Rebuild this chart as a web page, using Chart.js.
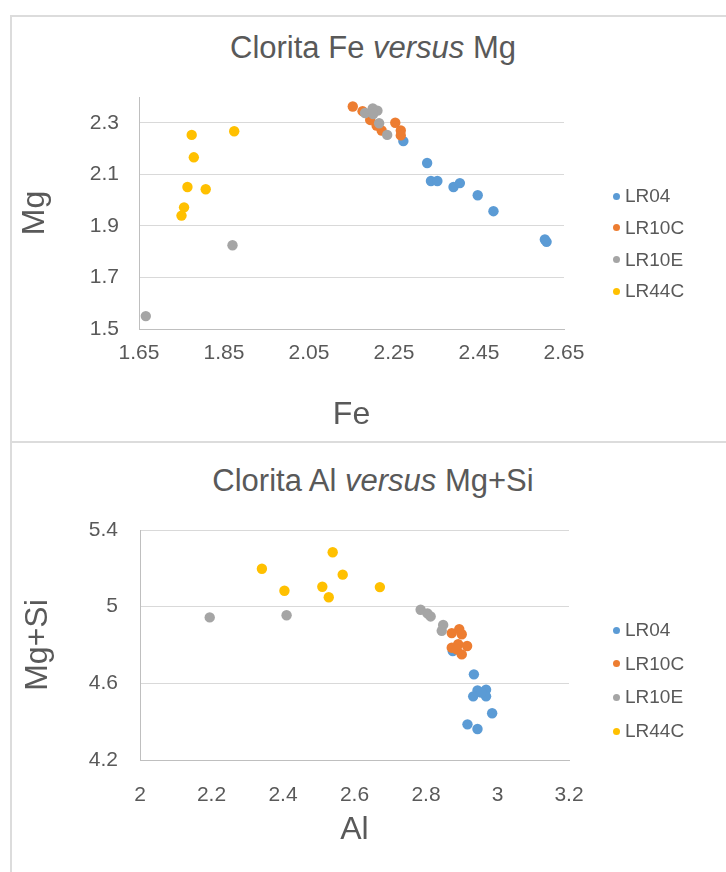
<!DOCTYPE html>
<html>
<head>
<meta charset="utf-8">
<script src="https://cdn.jsdelivr.net/npm/chart.js@4/dist/chart.umd.min.js"></script>
<style>
  html, body { margin: 0; padding: 0; background: #fff; }
  body { position: relative; width: 726px; height: 872px; overflow: hidden;
         font-family: "Liberation Sans", Arial, sans-serif; color: #595959; }
  .panel { position: absolute; left: 10px; width: 740px; border: 2px solid #DCDCDC; box-sizing: border-box; }
  canvas { position: absolute; }
  .title { position: absolute; left: 12px; width: 722px; text-align: center;
           font-size: 31px; line-height: 36px; white-space: nowrap; }
  .legend { position: absolute; font-size: 19px; }
  .legend .row { position: absolute; left: 0; height: 22px; line-height: 22px; white-space: nowrap; }
  .legend .dot { position: absolute; left: -3.5px; top: 7.5px; width: 7px; height: 7px; border-radius: 50%; }
  .legend .txt { position: absolute; left: 9px; top: 0; }
</style>
</head>
<body>
<div class="panel" style="top:15px;height:428px;"></div>
<div class="panel" style="top:441px;height:460px;"></div>

<div class="title" style="top:30px;">Clorita Fe <i>versus</i> Mg</div>
<div class="title" style="top:463px;">Clorita Al <i>versus</i> Mg+Si</div>

<canvas id="feMg" width="712" height="424" style="left:12px;top:17px;width:712px;height:424px;"></canvas>
<canvas id="alMgSi" width="712" height="429" style="left:12px;top:443px;width:712px;height:429px;"></canvas>

<div class="legend" id="legendFeMg" style="left:616px;top:0;"></div>
<div class="legend" id="legendAlMgSi" style="left:616px;top:0;"></div>

<script>
// Samples and their marker colours
const seriesNames = ['LR04', 'LR10C', 'LR10E', 'LR44C'];
const seriesColors = ['#5B9BD5', '#ED7D31', '#A5A5A5', '#FFC000'];

// Fe vs Mg (atoms per formula unit)
const feLR04  = [2.272, 2.328, 2.337, 2.352, 2.390, 2.405, 2.447, 2.484, 2.605, 2.609];
const mgLR04  = [2.229, 2.144, 2.074, 2.074, 2.051, 2.066, 2.019, 1.957, 1.847, 1.838];
const feLR10C = [2.153, 2.176, 2.194, 2.209, 2.221, 2.253, 2.266, 2.266];
const mgLR10C = [2.363, 2.345, 2.311, 2.289, 2.270, 2.300, 2.270, 2.251];
const feLR10E = [1.666, 1.870, 2.182, 2.200, 2.211, 2.201, 2.215, 2.234];
const mgLR10E = [1.550, 1.825, 2.338, 2.356, 2.347, 2.334, 2.298, 2.253];
const feLR44C = [1.774, 1.779, 1.764, 1.807, 1.756, 1.750, 1.874];
const mgLR44C = [2.253, 2.166, 2.051, 2.042, 1.972, 1.940, 2.267];

// Al vs Mg+Si
const alLR04    = [2.875, 2.934, 2.944, 2.968, 2.932, 2.968, 2.955, 2.985, 2.916, 2.944];
const mgsiLR04  = [4.768, 4.647, 4.563, 4.567, 4.532, 4.532, 4.552, 4.444, 4.386, 4.362];
const alLR10C   = [2.893, 2.872, 2.900, 2.890, 2.915, 2.872, 2.886, 2.900];
const mgsiLR10C = [4.883, 4.862, 4.856, 4.804, 4.795, 4.786, 4.777, 4.751];
const alLR10E   = [2.195, 2.410, 2.785, 2.804, 2.813, 2.848, 2.844];
const mgsiLR10E = [4.944, 4.955, 4.984, 4.965, 4.949, 4.905, 4.874];
const alLR44C   = [2.341, 2.404, 2.539, 2.567, 2.510, 2.528, 2.671];
const mgsiLR44C = [5.198, 5.083, 5.284, 5.167, 5.104, 5.049, 5.102];

// Axis ticks
const feTicks   = [1.65, 1.85, 2.05, 2.25, 2.45, 2.65];
const mgTicks   = [1.5, 1.7, 1.9, 2.1, 2.3];
const alTicks   = [2, 2.2, 2.4, 2.6, 2.8, 3, 3.2];
const mgsiTicks = [4.2, 4.6, 5, 5.4];

const FONT = '"Liberation Sans", Arial, sans-serif';
const TEXT = '#595959';
const fmt = v => String(Math.round(v * 100) / 100);

function scatterChart(id, c) {
  const datasets = seriesNames.map((name, i) => ({
    label: name,
    data: c.xs[i].map((x, k) => ({ x, y: c.ys[i][k] })),
    backgroundColor: seriesColors[i],
    borderColor: seriesColors[i],
    borderWidth: 0,
    pointRadius: 5.2,
    pointHoverRadius: 5.2,
    order: seriesNames.length - 1 - i
  }));
  return new Chart(document.getElementById(id), {
    type: 'scatter',
    data: { datasets },
    options: {
      responsive: false,
      animation: false,
      devicePixelRatio: 1,
      layout: { padding: { left: 0, top: c.padTop, right: c.padRight, bottom: 0 } },
      plugins: { legend: { display: false }, tooltip: { enabled: false } },
      scales: {
        x: {
          type: 'linear', min: c.xMin, max: c.xMax,
          afterBuildTicks: s => { s.ticks = c.xTicks.map(v => ({ value: v })); },
          afterFit: s => { s.height = c.xHeight; },
          grid: { display: false, drawTicks: false },
          border: { display: true, color: '#BFBFBF', width: 1 },
          ticks: { color: TEXT, font: { family: FONT, size: 21 }, padding: c.xTickPad,
                   maxRotation: 0, autoSkip: false, callback: fmt },
          title: { display: true, text: c.xTitle, color: TEXT, font: { family: FONT, size: 32 },
                   padding: { top: 0, bottom: c.xTitlePad } }
        },
        y: {
          type: 'linear', min: c.yMin, max: c.yMax,
          afterBuildTicks: s => { s.ticks = c.yTicks.map(v => ({ value: v })); },
          afterFit: s => { s.width = c.yWidth; },
          grid: { display: true, color: '#D9D9D9', lineWidth: 1, drawTicks: false },
          border: { display: true, color: '#BFBFBF', width: 1 },
          ticks: { color: TEXT, font: { family: FONT, size: 21 }, padding: c.yTickPad,
                   autoSkip: false, callback: fmt },
          title: { display: true, text: c.yTitle, color: TEXT, font: { family: FONT, size: 32 },
                   padding: { top: c.yTitlePad, bottom: 0 } }
        }
      }
    }
  });
}

function buildLegend(chart, el, firstY, step) {
  chart.data.datasets.forEach((ds, i) => {
    const row = document.createElement('div');
    row.className = 'row';
    row.style.top = (firstY + step * i - 11) + 'px';
    const dot = document.createElement('span');
    dot.className = 'dot';
    dot.style.background = ds.backgroundColor;
    const txt = document.createElement('span');
    txt.className = 'txt';
    txt.textContent = ds.label;
    row.appendChild(dot);
    row.appendChild(txt);
    el.appendChild(row);
  });
}

const feMg = scatterChart('feMg', {
  xs: [feLR04, feLR10C, feLR10E, feLR44C],
  ys: [mgLR04, mgLR10C, mgLR10E, mgLR44C],
  xMin: 1.65, xMax: 2.65, yMin: 1.5, yMax: 2.4,
  xTicks: feTicks, yTicks: mgTicks,
  xTitle: 'Fe', yTitle: 'Mg',
  padTop: 80, padRight: 160, xHeight: 112, yWidth: 127,
  xTickPad: 12, yTickPad: 20, xTitlePad: 7, yTitlePad: 4
});

const alMgSi = scatterChart('alMgSi', {
  xs: [alLR04, alLR10C, alLR10E, alLR44C],
  ys: [mgsiLR04, mgsiLR10C, mgsiLR10E, mgsiLR44C],
  xMin: 2, xMax: 3.2, yMin: 4.2, yMax: 5.4,
  xTicks: alTicks, yTicks: mgsiTicks,
  xTitle: 'Al', yTitle: 'Mg+Si',
  padTop: 87, padRight: 155, xHeight: 112, yWidth: 128,
  xTickPad: 23, yTickPad: 22, xTitlePad: 23, yTitlePad: 7
});

buildLegend(feMg, document.getElementById('legendFeMg'), 196, 31.8);
buildLegend(alMgSi, document.getElementById('legendAlMgSi'), 630, 33.7);
</script>
</body>
</html>
